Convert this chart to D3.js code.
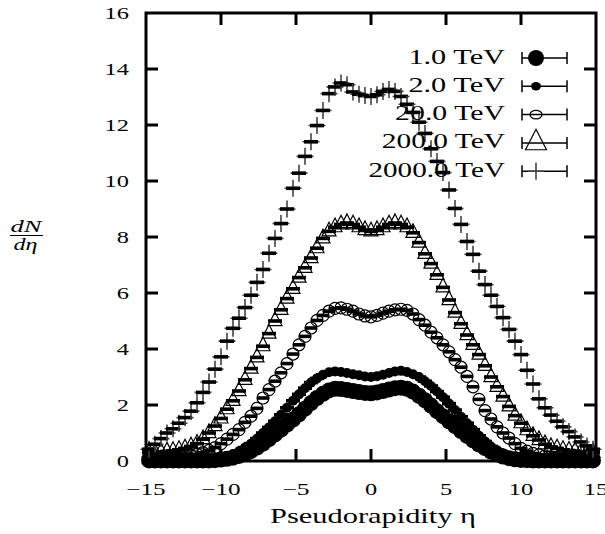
<!DOCTYPE html>
<html lang="en">
<head>
    <title>dN/deta vs pseudorapidity</title>
    <meta charset="utf-8">
    <script src="https://d3js.org/d3.v7.min.js"></script>
    <style>
        body { margin: 0; background: #fff; }
    </style>
</head>
<body>
<div id="visualization"></div>
<script>
    // pseudorapidity bin centres
    const eta = [-14.8, -14.4, -14.0, -13.6, -13.2, -12.8, -12.4, -12.0, -11.6, -11.2,
        -10.8, -10.4, -10.0, -9.6, -9.2, -8.8, -8.4, -8.0, -7.6, -7.2,
        -6.8, -6.4, -6.0, -5.6, -5.2, -4.8, -4.4, -4.0, -3.6, -3.2,
        -2.8, -2.4, -2.0, -1.6, -1.2, -0.8, -0.4, 0.0, 0.4, 0.8,
        1.2, 1.6, 2.0, 2.4, 2.8, 3.2, 3.6, 4.0, 4.4, 4.8,
        5.2, 5.6, 6.0, 6.4, 6.8, 7.2, 7.6, 8.0, 8.4, 8.8,
        9.2, 9.6, 10.0, 10.4, 10.8, 11.2, 11.6, 12.0, 12.4, 12.8,
        13.2, 13.6, 14.0, 14.4, 14.8];

    const tev1 = [0.02, 0.02, 0.02, 0.02, 0.02, 0.02, 0.02, 0.02, 0.02, 0.02,
        0.02, 0.03, 0.05, 0.08, 0.12, 0.18, 0.26, 0.36, 0.48, 0.62,
        0.78, 0.95, 1.12, 1.3, 1.48, 1.67, 1.87, 2.07, 2.25, 2.4,
        2.52, 2.58, 2.57, 2.54, 2.5, 2.46, 2.43, 2.42, 2.45, 2.5,
        2.55, 2.6, 2.62, 2.58, 2.48, 2.33, 2.17, 1.98, 1.78, 1.6,
        1.42, 1.25, 1.07, 0.9, 0.74, 0.59, 0.46, 0.34, 0.24, 0.16,
        0.1, 0.06, 0.04, 0.03, 0.02, 0.02, 0.02, 0.02, 0.02, 0.02,
        0.02, 0.02, 0.02, 0.02, 0.02];

    const tev2 = [0.02, 0.02, 0.02, 0.02, 0.02, 0.02, 0.03, 0.03, 0.04, 0.05,
        0.07, 0.1, 0.13, 0.18, 0.25, 0.35, 0.48, 0.62, 0.8, 1.0,
        1.2, 1.42, 1.65, 1.9, 2.15, 2.38, 2.6, 2.8, 2.95, 3.08,
        3.17, 3.2, 3.18, 3.14, 3.1, 3.06, 3.02, 3.0, 3.03, 3.08,
        3.14, 3.2, 3.22, 3.18, 3.1, 3.0, 2.85, 2.68, 2.48, 2.28,
        2.05, 1.82, 1.58, 1.35, 1.12, 0.9, 0.7, 0.52, 0.38, 0.27,
        0.18, 0.12, 0.08, 0.06, 0.04, 0.03, 0.03, 0.02, 0.02, 0.02,
        0.02, 0.02, 0.02, 0.02, 0.02];

    const tev20 = [0.1, 0.1, 0.1, 0.12, 0.13, 0.15, 0.17, 0.2, 0.24, 0.3,
        0.38, 0.48, 0.62, 0.78, 0.95, 1.12, 1.38, 1.6, 1.88, 2.25,
        2.55, 2.85, 3.15, 3.48, 3.82, 4.15, 4.45, 4.75, 5.02, 5.2,
        5.35, 5.45, 5.47, 5.42, 5.35, 5.25, 5.18, 5.15, 5.2, 5.28,
        5.35, 5.4, 5.42, 5.38, 5.25, 5.05, 4.85, 4.6, 4.4, 4.15,
        3.9, 3.62, 3.35, 3.02, 2.65, 2.2, 1.8, 1.5, 1.22, 1.0,
        0.82, 0.62, 0.45, 0.35, 0.27, 0.22, 0.18, 0.15, 0.13, 0.12,
        0.11, 0.1, 0.1, 0.1, 0.1];

    const tev200 = [0.3, 0.3, 0.32, 0.34, 0.36, 0.4, 0.45, 0.52, 0.62, 0.78,
        1.0, 1.25, 1.52, 1.85, 2.15, 2.5, 2.9, 3.3, 3.7, 4.1,
        4.55, 5.0, 5.4, 5.8, 6.15, 6.55, 6.9, 7.25, 7.6, 7.95,
        8.2, 8.35, 8.45, 8.5, 8.45, 8.35, 8.25, 8.2, 8.25, 8.35,
        8.45, 8.5, 8.45, 8.35, 8.15, 7.8, 7.4, 7.05, 6.65, 6.2,
        5.75, 5.3, 4.9, 4.5, 4.15, 3.8, 3.4, 3.0, 2.65, 2.3,
        1.95, 1.62, 1.35, 1.1, 0.9, 0.75, 0.6, 0.5, 0.45, 0.4,
        0.37, 0.35, 0.33, 0.32, 0.3];

    const tev2000 = [0.42, 0.6, 0.8, 1.0, 1.15, 1.35, 1.55, 1.78, 2.08, 2.45,
        2.82, 3.28, 3.72, 4.28, 4.74, 5.1, 5.48, 5.92, 6.38, 6.84,
        7.42, 7.95, 8.48, 9.0, 9.74, 10.28, 10.88, 11.4, 11.98, 12.52,
        13.12, 13.36, 13.5, 13.44, 13.18, 13.1, 13.05, 13.02, 13.08, 13.2,
        13.27, 13.2, 13.02, 12.74, 12.45, 12.1, 11.7, 11.15, 10.7, 10.3,
        9.68, 9.02, 8.45, 7.84, 7.38, 6.78, 6.3, 5.92, 5.52, 5.12,
        4.7, 4.28, 3.8, 3.24, 2.75, 2.22, 1.9, 1.64, 1.42, 1.22,
        1.05, 0.86, 0.68, 0.54, 0.42];

    const seriesNames = ["1.0 TeV", "2.0 TeV", "20.0 TeV", "200.0 TeV", "2000.0 TeV"];
    const seriesValues = [tev1, tev2, tev20, tev200, tev2000];
    const seriesMarks = ["bigdot", "dot", "circle", "triangle", "plus"];

    const xTicks = [-15, -10, -5, 0, 5, 10, 15];
    const yTicks = [0, 2, 4, 6, 8, 10, 12, 14, 16];

    const W = 605, H = 534;
    const plot = {left: 146, right: 596, top: 13, bottom: 461};
    const serif = "'Liberation Serif', 'DejaVu Serif', serif";

    const svg = d3.select("#visualization")
        .append("svg")
        .attr("width", W)
        .attr("height", H)
        .style("font-family", serif);

    const x = d3.scaleLinear().domain([-15, 15]).range([plot.left, plot.right]);
    const y = d3.scaleLinear().domain([0, 16]).range([plot.bottom, plot.top]);

    // the reference glyphs are set wide; force the rendered widths
    const tickAdv = {"\u2212": 15, "default": 12.2};
    const legendAdv = {".": 7, " ": 16, "T": 16, "e": 13, "V": 18, "default": 13.3};
    function widthOf(str, adv) {
        return Array.from(str).reduce((s, c) => s + (adv[c] !== undefined ? adv[c] : adv["default"]), 0);
    }
    function fitTo(sel, fn) {
        sel.attr("textLength", fn).attr("lengthAdjust", "spacingAndGlyphs");
    }

    // draw one marker of a given kind into g, at (cx, cy)
    function marker(g, kind, cx, cy, legend) {
        if (kind === "bigdot") {
            g.append("circle").attr("cx", cx).attr("cy", cy).attr("r", 8).attr("fill", "#000");
        } else if (kind === "dot") {
            g.append("ellipse").attr("cx", cx).attr("cy", cy).attr("rx", 5).attr("ry", legend ? 4.2 : 5).attr("fill", "#000");
        } else if (kind === "circle") {
            g.append("ellipse").attr("cx", cx).attr("cy", cy).attr("rx", 6).attr("ry", legend ? 4.3 : 6)
                .attr("fill", "none").attr("stroke", "#000").attr("stroke-width", 1.2);
        } else if (kind === "triangle") {
            const s = legend ? 10.5 : 7;
            g.append("path")
                .attr("d", `M${cx},${cy - s * 1.3}L${cx + s},${cy + s * 0.65}L${cx - s},${cy + s * 0.65}Z`)
                .attr("fill", "none").attr("stroke", "#000").attr("stroke-width", 1.2);
        } else if (kind === "plus") {
            g.append("path")
                .attr("d", `M${cx - 8.5},${cy}H${cx + 8.5}M${cx},${cy - 8.5}V${cy + 8.5}`)
                .attr("fill", "none").attr("stroke", "#444").attr("stroke-width", 1.6);
        }
    }

    // data: marker plus a thick horizontal bar for each bin
    const dataG = svg.append("g");
    seriesValues.forEach((vals, si) => {
        const g = dataG.append("g");
        const kind = seriesMarks[si];
        const barW = kind === "circle" ? 12 : 14;
        vals.forEach((v, i) => {
            const cx = x(eta[i]), cy = y(v);
            marker(g, kind, cx, cy, false);
            g.append("rect")
                .attr("x", cx - barW / 2).attr("y", cy - 1.8)
                .attr("width", barW).attr("height", 3.6)
                .attr("fill", "#000");
        });
    });

    // frame
    svg.append("rect")
        .attr("x", plot.left).attr("y", plot.top)
        .attr("width", plot.right - plot.left).attr("height", plot.bottom - plot.top)
        .attr("fill", "none").attr("stroke", "#000").attr("stroke-width", 3);

    // ticks on all four sides, inward
    const tickLen = 12;
    const tickG = svg.append("g").attr("stroke", "#000").attr("stroke-width", 3);
    xTicks.slice(1, -1).forEach(t => {
        tickG.append("line").attr("x1", x(t)).attr("x2", x(t)).attr("y1", plot.bottom).attr("y2", plot.bottom - tickLen);
        tickG.append("line").attr("x1", x(t)).attr("x2", x(t)).attr("y1", plot.top).attr("y2", plot.top + tickLen);
    });
    yTicks.slice(1, -1).forEach(t => {
        tickG.append("line").attr("x1", plot.left).attr("x2", plot.left + tickLen).attr("y1", y(t)).attr("y2", y(t));
        tickG.append("line").attr("x1", plot.right).attr("x2", plot.right - tickLen).attr("y1", y(t)).attr("y2", y(t));
    });

    // tick labels
    const fmt = d => d < 0 ? "\u2212" + Math.abs(d) : String(d);
    svg.append("g").selectAll("text")
        .data(xTicks)
        .join("text")
        .attr("x", d => x(d))
        .attr("y", 495)
        .attr("text-anchor", "middle")
        .attr("font-size", 17.5)
        .text(fmt)
        .call(fitTo, d => widthOf(fmt(d), tickAdv));

    svg.append("g").selectAll("text")
        .data(yTicks)
        .join("text")
        .attr("x", 129)
        .attr("y", d => y(d) + 6)
        .attr("text-anchor", "end")
        .attr("font-size", 17.5)
        .text(fmt)
        .call(fitTo, d => widthOf(fmt(d), tickAdv));

    // axis titles
    svg.append("text")
        .attr("x", 373).attr("y", 523)
        .attr("text-anchor", "middle")
        .attr("font-size", 22)
        .text("Pseudorapidity \u03b7")
        .call(fitTo, 206);

    const yl = svg.append("g");
    yl.append("text").attr("x", 26).attr("y", 232).attr("text-anchor", "middle")
        .attr("font-size", 17).attr("font-style", "italic").text("dN").call(fitTo, 31);
    yl.append("line").attr("x1", 10).attr("x2", 43).attr("y1", 235.5).attr("y2", 235.5)
        .attr("stroke", "#000").attr("stroke-width", 1);
    yl.append("text").attr("x", 25.5).attr("y", 250).attr("text-anchor", "middle")
        .attr("font-size", 17).attr("font-style", "italic").text("d\u03b7").call(fitTo, 24);

    // legend
    const legY = [58, 86.3, 114.6, 142.9, 171.2];
    const leg = svg.append("g");
    seriesNames.forEach((name, i) => {
        const ly = legY[i];
        leg.append("text")
            .attr("x", 505).attr("y", ly + 5.5)
            .attr("text-anchor", "end")
            .attr("font-size", 22)
            .text(name)
            .call(fitTo, widthOf(name, legendAdv));
        leg.append("path")
            .attr("d", `M522,${ly}H567M522,${ly - 6}V${ly + 6}M567,${ly - 6}V${ly + 6}`)
            .attr("fill", "none").attr("stroke", "#000").attr("stroke-width", 1.5);
        marker(leg, seriesMarks[i], 536, ly, true);
    });
</script>
</body>
</html>
